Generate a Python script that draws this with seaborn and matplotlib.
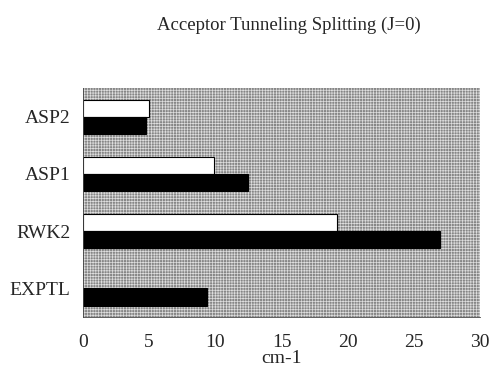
import matplotlib
matplotlib.use("Agg")
import matplotlib.pyplot as plt
import numpy as np
import pandas as pd
import seaborn as sns
from matplotlib.patches import Rectangle

# Tunneling splittings (cm-1) for each model / experiment
categories = ["ASP2", "ASP1", "RWK2", "EXPTL"]
series_names = ["calc_a", "calc_b"]
values_a = [5.0, 9.9, 19.2, np.nan]   # open bars
values_b = [4.8, 12.5, 27.0, 9.4]     # filled bars
x_ticks = [0, 5, 10, 15, 20, 25, 30]

df = pd.DataFrame({
    "model": categories * 2,
    "series": [series_names[0]] * len(categories) + [series_names[1]] * len(categories),
    "value": values_a + values_b,
})

sns.set_theme(style="white")
plt.rcParams["font.family"] = ["Liberation Serif", "DejaVu Serif"]
plt.rcParams["hatch.linewidth"] = 0.5

fig = plt.figure(figsize=(4.93, 3.67), dpi=100)
ax = fig.add_axes([0.168, 0.136, 0.806, 0.624])

# stippled grey plotting area: dark grey dots between a fine light grid
ax.set_facecolor("#868686")
ax.add_patch(Rectangle((0, 0), 1, 1, transform=ax.transAxes, facecolor="none",
                       edgecolor="#dedede", hatch="+" * 6, linewidth=0, zorder=0))

sns.barplot(data=df, y="model", x="value", hue="series", order=categories,
            hue_order=series_names, palette=["white", "black"], orient="h",
            width=0.6, edgecolor="black", linewidth=0.8, legend=False,
            saturation=1, ax=ax, zorder=2)

ax.set_xlim(0, 30)
ax.set_ylim(len(categories) - 0.5, -0.5)
ax.set_xticks(x_ticks)
ax.set_xticklabels([str(t) for t in x_ticks], fontsize=14)
ax.tick_params(axis="x", direction="out", length=6, width=0.6, color="black", pad=6)

ax.set_yticks(range(len(categories)))
ax.set_yticklabels(categories, fontsize=14)
ax.tick_params(axis="y", which="major", length=0, pad=9)
ax.set_yticks(np.arange(-0.5, len(categories), 1.0), minor=True)
ax.tick_params(axis="y", which="minor", direction="out", length=5, width=0.6, color="black")

ax.set_ylabel("")
ax.set_xlabel("cm-1", fontsize=14, va="top")
ax.xaxis.set_label_coords(0.5, -0.143)

for side in ["top", "right"]:
    ax.spines[side].set_visible(False)
ax.spines["bottom"].set_color("#444444")
ax.spines["bottom"].set_linewidth(0.6)
ax.spines["left"].set_color("#444444")
ax.spines["left"].set_linewidth(0.6)

fig.text(0.585, 1 - 29.5 / 367, "Acceptor Tunneling Splitting (J=0)", ha="center",
         va="baseline", fontsize=13.5)

fig.savefig("out.png", dpi=100)
